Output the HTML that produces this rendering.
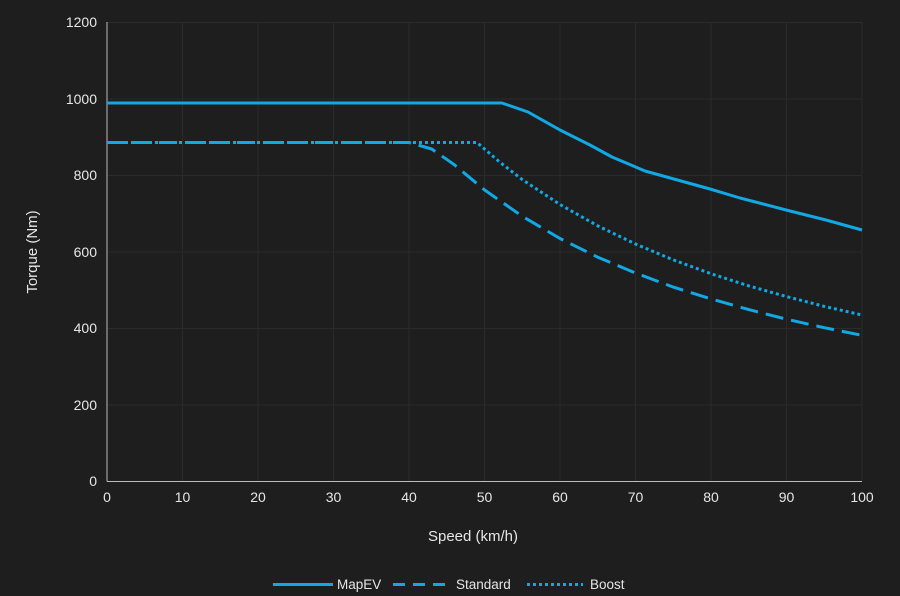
<!DOCTYPE html>
<html><head><meta charset="utf-8"><style>
html,body{margin:0;padding:0;background:#1e1e1e;}
svg{display:block;font-family:"Liberation Sans",sans-serif;}
</style></head><body>
<svg width="900" height="596" viewBox="0 0 900 596">
<rect width="900" height="596" fill="#1e1e1e"/>
<g stroke="#2b2b2b" stroke-width="1">
<line x1="107" y1="22.5" x2="862" y2="22.5"/><line x1="107" y1="99" x2="862" y2="99"/><line x1="107" y1="175.5" x2="862" y2="175.5"/><line x1="107" y1="252" x2="862" y2="252"/><line x1="107" y1="328.5" x2="862" y2="328.5"/><line x1="107" y1="405" x2="862" y2="405"/>
<line x1="182.5" y1="22" x2="182.5" y2="481"/><line x1="258" y1="22" x2="258" y2="481"/><line x1="333.5" y1="22" x2="333.5" y2="481"/><line x1="409" y1="22" x2="409" y2="481"/><line x1="484.5" y1="22" x2="484.5" y2="481"/><line x1="560" y1="22" x2="560" y2="481"/><line x1="635.5" y1="22" x2="635.5" y2="481"/><line x1="711" y1="22" x2="711" y2="481"/><line x1="786.5" y1="22" x2="786.5" y2="481"/><line x1="862" y1="22" x2="862" y2="481"/>
</g>
<line x1="107" y1="22" x2="107" y2="481.5" stroke="#bbb" stroke-width="1"/>
<line x1="107" y1="481.5" x2="862" y2="481.5" stroke="#bbb" stroke-width="1"/>
<g fill="#e6e6e6" font-size="14" text-anchor="end">
<text x="97" y="27">1200</text><text x="97" y="104">1000</text><text x="97" y="180">800</text><text x="97" y="257">600</text><text x="97" y="333">400</text><text x="97" y="410">200</text><text x="97" y="486">0</text>
</g>
<g fill="#e6e6e6" font-size="14" text-anchor="middle">
<text x="107" y="502">0</text><text x="182.5" y="502">10</text><text x="258" y="502">20</text><text x="333.5" y="502">30</text><text x="409" y="502">40</text><text x="484.5" y="502">50</text><text x="560" y="502">60</text><text x="635.5" y="502">70</text><text x="711" y="502">80</text><text x="786.5" y="502">90</text><text x="862" y="502">100</text>
<text x="473" y="541" font-size="15">Speed (km/h)</text>
<text transform="translate(37,252) rotate(-90)" font-size="15">Torque (Nm)</text>
</g>
<g fill="none" stroke="#12a8e4" stroke-width="3" stroke-linejoin="round">
<polyline points="107,103 502,103 528,112 560,130 590,145 612,157 645,171 710,189 740,198 790,211 826,220 862,230"/>
<polyline stroke-dasharray="18,8" points="107,142.5 409,142.5 431.7,149 454.3,164.7 484.5,189.9 522.3,216.3 560,238.5 597.8,257.2 635.5,273 673.3,287.1 711,298.9 748.8,309.6 786.5,319.2 824.3,327.7 862,335.3"/>
<polyline stroke-dasharray="3,3" points="107,142.5 477,142.5 499.6,162 522.3,179.6 560,204.5 597.8,225.9 635.5,244 673.3,259.9 711,273.7 748.8,285.9 786.5,296.6 824.3,306.4 862,315"/>
<line x1="273" y1="584.5" x2="333" y2="584.5"/>
<line x1="393" y1="584.5" x2="452" y2="584.5" stroke-dasharray="12,8"/>
<line x1="527" y1="584.5" x2="583" y2="584.5" stroke-dasharray="3,3"/>
</g>
<g fill="#e6e6e6" font-size="13.5">
<text x="337" y="589">MapEV</text><text x="456" y="589">Standard</text><text x="590" y="589">Boost</text>
</g>
</svg>
</body></html>
